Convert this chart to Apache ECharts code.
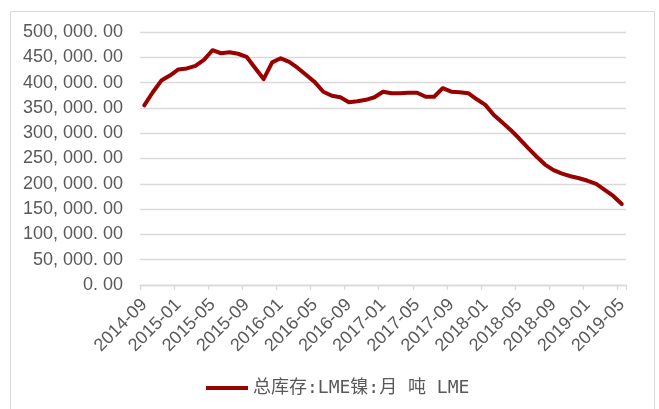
<!DOCTYPE html>
<html>
<head>
<meta charset="utf-8">
<script src="https://cdn.jsdelivr.net/npm/echarts@6/dist/echarts.min.js"></script>
<style>
  html, body { margin: 0; padding: 0; background: #ffffff; }
  #chart { width: 659px; height: 409px; }
</style>
</head>
<body>
<div id="chart"></div>
<script>
// Monthly categories, 2014-09 .. 2019-05
const months = [
  '2014-09','2014-10','2014-11','2014-12',
  '2015-01','2015-02','2015-03','2015-04','2015-05','2015-06','2015-07','2015-08','2015-09','2015-10','2015-11','2015-12',
  '2016-01','2016-02','2016-03','2016-04','2016-05','2016-06','2016-07','2016-08','2016-09','2016-10','2016-11','2016-12',
  '2017-01','2017-02','2017-03','2017-04','2017-05','2017-06','2017-07','2017-08','2017-09','2017-10','2017-11','2017-12',
  '2018-01','2018-02','2018-03','2018-04','2018-05','2018-06','2018-07','2018-08','2018-09','2018-10','2018-11','2018-12',
  '2019-01','2019-02','2019-03','2019-04','2019-05'
];

// LME nickel total stocks, tonnes
const stocks = [
  355000, 381000, 404000, 414000,
  426000, 428000, 433000, 445000, 464000, 458000, 460000, 457000, 451000, 429000, 407000, 440000,
  448000, 441000, 429000, 415000, 401000, 382000, 374000, 371000, 361000, 363000, 366000, 371000,
  382000, 379000, 379000, 380000, 380000, 372000, 372000, 389000, 382000, 381000, 379000, 367000,
  356000, 336000, 321000, 306000, 289000, 271000, 254000, 238000, 227000, 220000, 215000, 211000,
  206000, 200000, 188000, 176000, 160000
];

const seriesName = '总库存:LME镍:月 吨 LME';

// y-axis tick values
const yMin = 0, yMax = 500000, yStep = 50000;

function fmtTonnes(v) {
  const s = v.toFixed(2);
  const [intPart, dec] = s.split('.');
  const withSep = intPart.replace(/\B(?=(\d{3})+(?!\d))/g, ', ');
  return withSep + '. ' + dec;
}

const chart = echarts.init(document.getElementById('chart'), null, { renderer: 'canvas' });
const textFont = '"Liberation Sans", "Noto Sans CJK SC", sans-serif';

chart.setOption({
  animation: false,
  backgroundColor: '#ffffff',
  graphic: [{
    type: 'rect',
    shape: { x: 10.5, y: 11.5, width: 644, height: 420 },
    style: { fill: 'none', stroke: '#d9d9d9', lineWidth: 1 },
    silent: true
  }],
  grid: { left: 140, right: 33, top: 32, bottom: 124, containLabel: false },
  legend: {
    show: true,
    left: 201,
    top: 374,
    itemWidth: 42,
    itemHeight: 20,
    itemGap: 6,
    textStyle: { color: '#595959', fontSize: 18, fontFamily: '"DejaVu Sans Mono", "Noto Sans CJK SC", monospace' },
    data: [{ name: seriesName, icon: 'path://M0,8 L42,8 L42,12 L0,12 Z' }]
  },
  xAxis: {
    type: 'category',
    data: months,
    boundaryGap: true,
    axisLine: { show: true, lineStyle: { color: '#d9d9d9', width: 1.3 } },
    axisTick: { show: true, interval: 3, length: 5, lineStyle: { color: '#d9d9d9', width: 1.3 } },
    axisLabel: {
      interval: 3,
      rotate: 45,
      margin: 17,
      color: '#595959',
      fontSize: 18,
      fontFamily: textFont
    },
    splitLine: { show: false }
  },
  yAxis: {
    type: 'value',
    min: yMin,
    max: yMax,
    interval: yStep,
    axisLine: { show: false },
    axisTick: { show: false },
    axisLabel: {
      margin: 17,
      color: '#595959',
      fontSize: 18,
      fontFamily: textFont,
      formatter: fmtTonnes
    },
    splitLine: { show: true, lineStyle: { color: '#d9d9d9', width: 1.3 } }
  },
  series: [{
    name: seriesName,
    type: 'line',
    data: stocks,
    showSymbol: false,
    symbol: 'none',
    lineStyle: { color: '#990000', width: 4, cap: 'round', join: 'round' },
    itemStyle: { color: '#990000' }
  }]
});
</script>
</body>
</html>
